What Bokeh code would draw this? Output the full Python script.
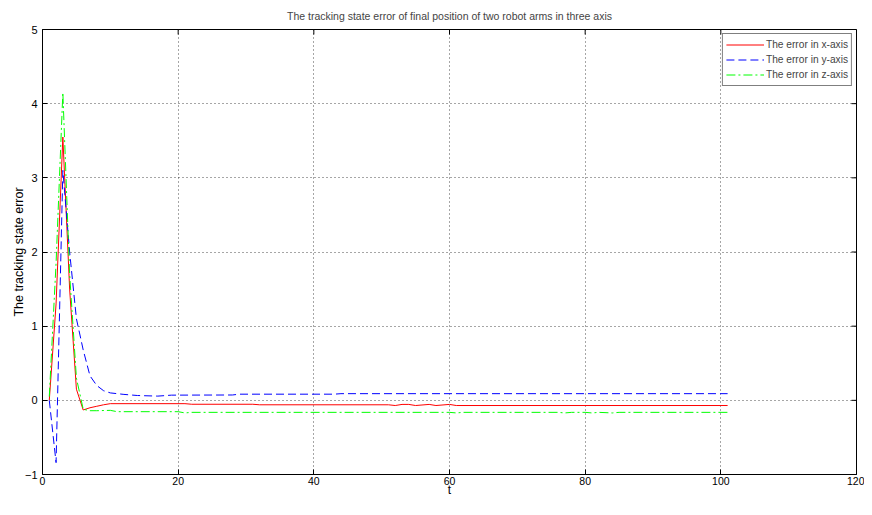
import math
from bokeh.plotting import figure
from bokeh.models import Range1d, FixedTicker
from bokeh.embed import file_html
from bokeh.resources import INLINE

# ---- data ----
title_text = "The tracking state error of final position of two robot arms in three axis"
x_label = "t"
y_label = "The tracking state error"
x_ticks = [0, 20, 40, 60, 80, 100, 120]
y_ticks = [-1, 0, 1, 2, 3, 4, 5]

series_names = ["The error in x-axis", "The error in y-axis", "The error in z-axis"]

t_x = [1, 2, 3, 4, 5, 6, 7, 8, 9, 10, 21, 22, 31, 32, 51, 52, 53, 54, 55, 57, 58, 60, 61, 101]
err_x = [0.0, 1.3, 3.55, 1.5, 0.15, -0.13, -0.10, -0.08, -0.06, -0.045, -0.045, -0.053,
         -0.053, -0.06, -0.06, -0.07, -0.055, -0.055, -0.07, -0.055, -0.07, -0.055, -0.07, -0.07]

t_y = [1, 2, 3, 4, 5, 6, 7, 8, 9, 10, 12, 14, 17, 19, 28, 29, 43, 44, 101]
err_y = [0.0, -0.84, 3.1, 2.0, 1.1, 0.68, 0.33, 0.2, 0.13, 0.1, 0.08, 0.065, 0.057, 0.07,
         0.072, 0.083, 0.083, 0.09, 0.09]

t_z = [1, 2, 3, 4, 5, 6, 7, 8, 10, 11, 20, 21, 22, 60, 61, 62, 76, 77, 78, 80, 81, 82, 84, 85, 101]
err_z = [0.05, 1.85, 4.15, 1.7, 0.3, -0.12, -0.14, -0.14, -0.135, -0.153, -0.153, -0.17,
         -0.162, -0.162, -0.17, -0.162, -0.162, -0.17, -0.162, -0.162, -0.17, -0.162,
         -0.17, -0.162, -0.162]

FONT = "Liberation Sans"

p = figure(width=864, height=499, output_backend="svg", toolbar_location=None,
           x_range=Range1d(x_ticks[0], x_ticks[-1]), y_range=Range1d(y_ticks[0], y_ticks[-1]),
           title=title_text,
           min_border_left=42, min_border_right=8, min_border_top=26, min_border_bottom=0)
p.background_fill_color = "white"
p.border_fill_color = "white"
p.outline_line_color = "black"
p.outline_line_width = 1

p.title.text_font = FONT
p.title.text_font_size = "10.5px"
p.title.text_font_style = "normal"
p.title.align = "center"
p.title.standoff = 15

for ax in (p.xaxis[0], p.yaxis[0]):
    ax.major_tick_in = 5
    ax.major_tick_out = 0
    ax.minor_tick_in = 0
    ax.minor_tick_out = 0
    ax.axis_line_color = "black"
    ax.major_tick_line_color = "black"
    ax.major_label_text_font = FONT
    ax.major_label_text_font_size = "11px"
    ax.major_label_text_color = "black"
    ax.axis_label_text_font = FONT
    ax.axis_label_text_font_style = "normal"
    ax.axis_label_text_color = "black"

p.xaxis.ticker = FixedTicker(ticks=x_ticks)
p.yaxis.ticker = FixedTicker(ticks=y_ticks)
p.xaxis.axis_label = x_label
p.yaxis.axis_label = y_label
p.xaxis.major_label_text_font_size = "10.5px"
p.xaxis.axis_label_text_font_size = "12px"
p.yaxis.axis_label_text_font_size = "12.5px"
p.xaxis.major_label_standoff = 2
p.xaxis.axis_label_standoff = -5
p.yaxis.major_label_standoff = 5
p.yaxis.axis_label_standoff = -4

# mirrored inward ticks on the top and right edges of the box
p.scatter([x_ticks[-1]] * len(y_ticks), y_ticks, marker="dash", size=10,
          line_color="black", line_width=1)
p.scatter(x_ticks, [y_ticks[-1]] * len(x_ticks), marker="dash", size=10,
          angle=math.pi / 2, line_color="black", line_width=1)

p.grid.grid_line_color = "#222222"
p.grid.grid_line_alpha = 0.8
p.grid.grid_line_dash = "1 3"
p.grid.grid_line_width = 1

p.line(t_x, err_x, line_color="#ff0000", line_width=1, legend_label=series_names[0])
p.line(t_y, err_y, line_color="#0000ff", line_width=1, line_dash="8 4",
       legend_label=series_names[1])
p.line(t_z, err_z, line_color="#00ff00", line_width=1, line_dash="9 3 2 3",
       legend_label=series_names[2])

lg = p.legend[0]
lg.location = "top_right"
lg.margin = 4
lg.padding = 3
lg.spacing = 0
lg.border_line_color = "black"
lg.border_line_width = 1
lg.background_fill_color = "white"
lg.background_fill_alpha = 1
lg.label_text_font = FONT
lg.label_text_font_size = "10.2px"
lg.label_height = 15
lg.glyph_height = 15
lg.glyph_width = 38
lg.label_standoff = 2

open("out.html", "w").write(file_html(p, INLINE))
